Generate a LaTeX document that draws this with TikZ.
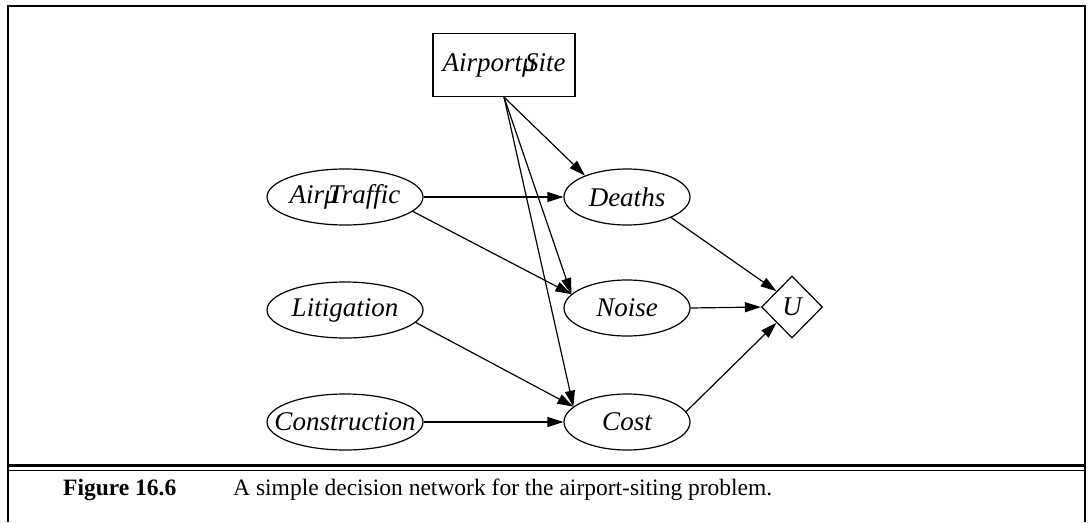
\documentclass[tikz,border=0pt]{standalone}
\usepackage{fontspec}
\setmainfont{Liberation Serif}
\usetikzlibrary{arrows.meta,shapes.geometric}

\begin{document}
\begin{tikzpicture}[
  x=1pt,y=-1pt,
  every node/.style={font=\fontsize{27}{29}\selectfont\itshape},
  dnode/.style={draw,ellipse,line width=1.2pt,minimum height=56pt,inner xsep=-30pt,inner ysep=0pt},
  dleft/.style={dnode,minimum width=156pt},
  dright/.style={dnode,minimum width=126pt},
  dbox/.style={draw,rectangle,line width=1.2pt,minimum width=142pt,minimum height=63pt,inner sep=0pt},
  util/.style={draw,diamond,line width=1.2pt,minimum width=61pt,minimum height=62pt,inner sep=0pt},
  arr/.style={-{Triangle[length=16pt,width=10pt]},line width=1.2pt},
  capt/.style={anchor=base west,inner sep=0pt,font=\fontsize{23.5}{26}\selectfont\upshape},
]
  \useasboundingbox (0,0) rectangle (1089,522);

  % frame and rule
  \draw[line width=2pt] (8,522) -- (8,6) -- (1085,6) -- (1085,522);
  \draw[line width=3pt] (8,465) -- (1085,465);
  \draw[line width=1.5pt] (8,470.5) -- (1085,470.5);

  % decision node
  \node[dbox] (site) at (504,65) {Airport\rlap{μ}\kern3pt Site};

  % chance nodes, left column
  \node[dleft] (traffic) at (345,197) {Air\rlap{μ}\kern4pt Traffic};
  \node[dleft] (litig) at (345,310) {Litigation};
  \node[dleft] (constr) at (345,422) {Construction};

  % chance nodes, right column
  \node[dright] (deaths) at (627,197) {Deaths};
  \node[dright] (noise) at (627,308) {Noise};
  \node[dright] (cost) at (627,422) {Cost};

  % utility node
  \node[util] (u) at (792,307) {U};

  % arcs from the decision
  \draw[arr] (site.south) -- (deaths.153);
  \draw[arr] (site.south) -- (noise.166);
  \draw[arr] (site.south) -- (cost.164);

  % arcs between chance nodes
  \draw[arr] (traffic.east) -- (deaths.west);
  \draw[arr] (traffic.-12) -- (noise.166);
  \draw[arr] (litig.-10) -- (cost.164);
  \draw[arr] (constr.east) -- (cost.west);

  % arcs into the utility
  \draw[arr] (deaths.-25) -- (u.north west);
  \draw[arr] (noise.east) -- (u.west);
  \draw[arr] (cost.10) -- (u.south west);

  % caption
  \node[capt] (fignum) at (63,495) {\bfseries Figure 16.6};
  \node[capt] (figtext) at (233,495) {A simple decision network for the airport-siting problem.};
\end{tikzpicture}
\end{document}
